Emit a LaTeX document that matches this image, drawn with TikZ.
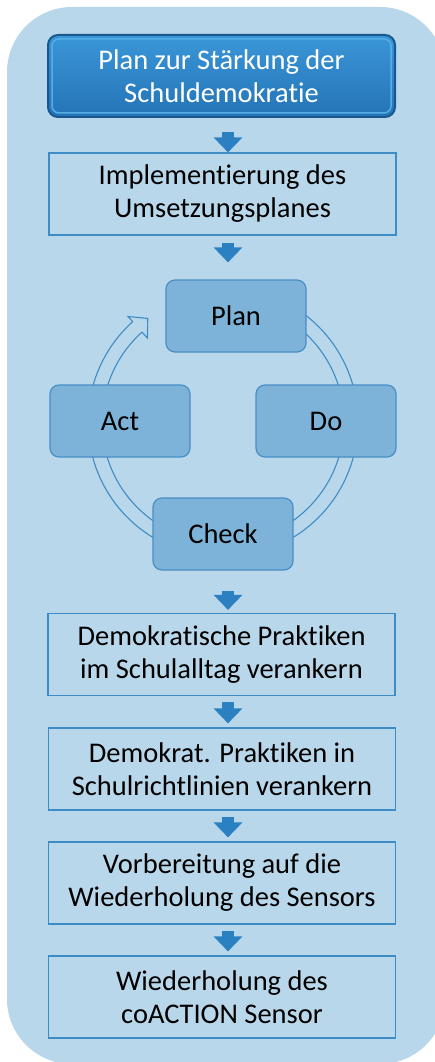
\documentclass[tikz,border=0pt]{standalone}
\usepackage{fontspec}
\setmainfont{Carlito}[Ligatures=NoCommon]
\usetikzlibrary{arrows.meta}
\definecolor{bgblue}{HTML}{B9D7EA}
\definecolor{boxline}{HTML}{3E8CC6}
\definecolor{arrowblue}{HTML}{2B80C2}
\definecolor{cyclefill}{HTML}{7DB3D9}
\definecolor{cycleline}{HTML}{4A8EC6}
\definecolor{titletop}{HTML}{3A96D8}
\definecolor{titlebot}{HTML}{2474B6}
\definecolor{titleline}{HTML}{18588F}
\definecolor{titlerim}{HTML}{56AEE6}
\begin{document}
\begin{tikzpicture}[x=1pt,y=-1pt,
	flowbox/.style={draw=boxline, fill=bgblue, line width=1.2pt, minimum width=347pt, minimum height=82pt, align=center, font=\fontsize{28.5}{33}\selectfont, inner sep=0pt},
	titlebox/.style={draw=titleline, line width=2pt, top color=titletop, bottom color=titlebot, rounded corners=10pt, minimum width=347pt, minimum height=82pt, align=center, text=white, font=\fontsize{28.5}{33}\selectfont, inner sep=0pt},
	cyclebox/.style={draw=cycleline, fill=cyclefill, line width=1.2pt, rounded corners=9pt, minimum width=140pt, minimum height=72pt, font=\fontsize{28.5}{33}\selectfont, inner sep=0pt},
	ringband/.style={draw=boxline, fill=bgblue, line width=1.1pt},
	flowarrow/.style={draw=arrowblue, line width=12pt, -{Triangle[length=15pt,width=28pt]}}]
	\clip (0,0) rectangle (435,1062);
	\fill[bgblue, rounded corners=65pt] (7,7) rectangle (445,1064);
	\node[titlebox] (title) at (221.5,76) {};
	\draw[titlerim, line width=1.5pt, rounded corners=7pt] ([xshift=5pt,yshift=-5pt]title.north west) rectangle ([xshift=-5pt,yshift=5pt]title.south east);
	\node[align=center, text=white, font=\fontsize{28.5}{33}\selectfont] (titletext) at (title) {Plan zur Stärkung der\\Schuldemokratie};
	\node[flowbox] (impl) at (222.5,194) {Implementierung des\\Umsetzungsplanes};
	\begin{scope}[shift={(223,422)}]
		\draw[ringband] (-112:135) arc[start angle=-112, end angle=228, radius=135]
			-- (228:142) -- (234:128) -- (228:113) -- (228:121)
			arc[start angle=228, end angle=-112, radius=121] -- cycle;
	\end{scope}
	\node[cyclebox] (plan) at (236,316) {Plan};
	\node[cyclebox] (act) at (120,421) {Act};
	\node[cyclebox] (do) at (326,421) {Do};
	\node[cyclebox] (check) at (223,534) {Check};
	\node[flowbox] (alltag) at (221.5,654.5) {Demokratische Praktiken\\im Schulalltag verankern};
	\node[flowbox] (richtl) at (222,769) {Demokrat. Praktiken in\\Schulrichtlinien verankern};
	\node[flowbox] (vorber) at (222,883) {Vorbereitung auf die\\Wiederholung des Sensors};
	\node[flowbox] (wiederh) at (222,997) {Wiederholung des\\coACTION Sensor};
	\draw[flowarrow, shorten <=14pt] ([xshift=6.5pt]title.south) -- ([xshift=6.5pt]title.south |- impl.north);
	\draw[flowarrow, shorten <=7pt, shorten >=17pt] ([xshift=5.5pt]impl.south) -- ([xshift=5.5pt]impl.south |- plan.north);
	\draw[flowarrow, shorten <=20pt, shorten >=3pt] ([xshift=5pt]check.south) -- ([xshift=5pt]check.south |- alltag.north);
	\draw[flowarrow, shorten <=6pt, shorten >=4pt] ([xshift=6.5pt]alltag.south) -- ([xshift=6.5pt]alltag.south |- richtl.north);
	\draw[flowarrow, shorten <=6pt, shorten >=4pt] ([xshift=6pt]richtl.south) -- ([xshift=6pt]richtl.south |- vorber.north);
	\draw[flowarrow, shorten <=6pt, shorten >=4pt] ([xshift=6pt]vorber.south) -- ([xshift=6pt]vorber.south |- wiederh.north);
\end{tikzpicture}
\end{document}
